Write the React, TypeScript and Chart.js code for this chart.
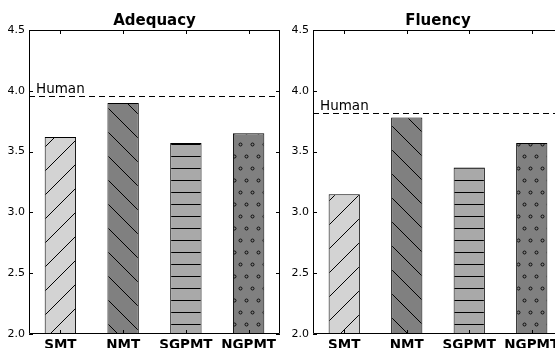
import React, { useEffect, useRef } from "react";
import { Chart, registerables } from "chart.js";
Chart.register(...registerables);

const categories = ["SMT", "NMT", "SGPMT", "NGPMT"];
const adequacyValues = [3.62, 3.9, 3.57, 3.65];
const fluencyValues = [3.15, 3.78, 3.37, 3.57];
const adequacyHuman = 3.96;
const fluencyHuman = 3.82;
const yTicks = [2.0, 2.5, 3.0, 3.5, 4.0, 4.5];
const yMin = 2.0;
const yMax = 4.5;
const humanLabel = "Human";
const barColors = ["#d3d3d3", "#808080", "#a9a9a9", "#808080"];
const hatches = ["/", "\\", "-", "o"];

const FONT = "'DejaVu Sans', 'Liberation Sans', sans-serif";

function makePattern(kind: string, fill: string): CanvasPattern | string {
  const c = document.createElement("canvas");
  let w = 24, h = 24;
  if (kind === "-") { w = 12; h = 12; }
  if (kind === "o") { w = 12; h = 24; }
  c.width = w; c.height = h;
  const ctx = c.getContext("2d");
  if (!ctx) return fill;
  ctx.fillStyle = fill;
  ctx.fillRect(0, 0, w, h);
  ctx.strokeStyle = "#000";
  ctx.fillStyle = "#000";
  ctx.lineWidth = 1;
  if (kind === "/") {
    ctx.beginPath();
    ctx.moveTo(-2, 26); ctx.lineTo(26, -2);
    ctx.moveTo(-2, 2); ctx.lineTo(2, -2);
    ctx.moveTo(22, 26); ctx.lineTo(26, 22);
    ctx.stroke();
  } else if (kind === "\\") {
    ctx.beginPath();
    ctx.moveTo(-2, -2); ctx.lineTo(26, 26);
    ctx.moveTo(22, -2); ctx.lineTo(26, 2);
    ctx.moveTo(-2, 22); ctx.lineTo(2, 26);
    ctx.stroke();
  } else if (kind === "-") {
    ctx.fillRect(0, 0, w, 1);
  } else if (kind === "o") {
    const pts = [[0, 0], [12, 0], [0, 24], [12, 24], [6, 12]];
    ctx.lineWidth = 0.9;
    for (const [px, py] of pts) {
      ctx.beginPath();
      ctx.arc(px + 0.5, py + 0.5, 1.5, 0, Math.PI * 2);
      ctx.stroke();
    }
  }
  const pat = ctx.createPattern(c, "repeat");
  return pat || fill;
}

type PanelProps = {
  title: string;
  values: number[];
  human: number;
  left: number;
  width: number;
  yWidth: number;
  padRight: number;
};

function Panel({ title, values, human, left, width, yWidth, padRight }: PanelProps) {
  const ref = useRef<HTMLCanvasElement | null>(null);
  useEffect(() => {
    if (!ref.current) return;
    const patterns = hatches.map((h, i) => makePattern(h, barColors[i]));
    const deco = {
      id: "deco",
      afterDatasetsDraw(chart: any) {
        const { ctx, chartArea } = chart;
        const y = chart.scales.y;
        const py = Math.round(y.getPixelForValue(human)) + 0.5;
        ctx.save();
        ctx.strokeStyle = "#000";
        ctx.lineWidth = 1;
        ctx.setLineDash([6, 4]);
        ctx.beginPath();
        ctx.moveTo(chartArea.left, py);
        ctx.lineTo(chartArea.right, py);
        ctx.stroke();
        ctx.setLineDash([]);
        ctx.fillStyle = "#000";
        ctx.font = `13.5px ${FONT}`;
        ctx.textAlign = "left";
        ctx.textBaseline = "alphabetic";
        ctx.fillText(humanLabel, chartArea.left + 7, py - 3.5);
        ctx.restore();
      },
      afterDraw(chart: any) {
        const { ctx, chartArea } = chart;
        const { left: l, right: r, top: t, bottom: b } = chartArea;
        const x = chart.scales.x;
        const y = chart.scales.y;
        ctx.save();
        ctx.strokeStyle = "#000";
        ctx.lineWidth = 1;
        ctx.beginPath();
        ctx.rect(l + 0.5, t + 0.5, r - l - 1, b - t - 1);
        ctx.stroke();
        ctx.beginPath();
        for (const v of yTicks) {
          const py = Math.round(y.getPixelForValue(v)) + 0.5;
          ctx.moveTo(l, py); ctx.lineTo(l + 4, py);
          ctx.moveTo(r, py); ctx.lineTo(r - 4, py);
        }
        categories.forEach((_, i) => {
          const px = Math.round(x.getPixelForValue(i)) + 0.5;
          ctx.moveTo(px, t); ctx.lineTo(px, t + 4);
          ctx.moveTo(px, b); ctx.lineTo(px, b - 4);
        });
        ctx.stroke();
        ctx.fillStyle = "#000";
        ctx.font = `bold 15px ${FONT}`;
        ctx.textAlign = "center";
        ctx.textBaseline = "alphabetic";
        ctx.fillText(title, (l + r) / 2, 25);
        ctx.restore();
      },
    };
    const chart = new Chart(ref.current, {
      type: "bar",
      data: {
        labels: categories,
        datasets: [
          {
            data: values,
            backgroundColor: patterns as any,
            borderColor: "#000",
            borderWidth: 1,
            borderSkipped: "start",
            barPercentage: 0.5,
            categoryPercentage: 1,
          },
        ],
      },
      options: {
        animation: false,
        responsive: false,
        devicePixelRatio: 1,
        layout: { padding: { left: 0, top: 30, right: padRight, bottom: 0 } },
        plugins: {
          legend: { display: false },
          tooltip: { enabled: false },
          title: { display: false },
        },
        scales: {
          x: {
            type: "category",
            offset: true,
            grid: { display: false, drawTicks: false },
            border: { display: false },
            ticks: {
              color: "#000",
              font: { family: FONT, size: 13.5, weight: "bold" },
              padding: 3,
              maxRotation: 0,
              autoSkip: false,
            },
            afterFit: (s: any) => { s.height = 14; },
          },
          y: {
            min: yMin,
            max: yMax,
            grid: { display: false, drawTicks: false },
            border: { display: false },
            ticks: {
              color: "#000",
              font: { family: FONT, size: 11 },
              padding: 4,
              callback: (v: any) => Number(v).toFixed(1),
            },
            afterBuildTicks: (s: any) => { s.ticks = yTicks.map((v) => ({ value: v })); },
            afterFit: (s: any) => { s.width = yWidth; },
          },
        },
      } as any,
      plugins: [deco],
    });
    return () => chart.destroy();
  }, [title, values, human, yWidth, padRight]);
  return (
    <canvas
      ref={ref}
      width={width}
      height={348}
      style={{ position: "absolute", left, top: 0, width, height: 348 }}
    />
  );
}

export default function App() {
  return (
    <div
      style={{
        position: "fixed",
        left: 0,
        top: 0,
        width: 555,
        height: 348,
        overflow: "hidden",
        background: "#fff",
      }}
    >
      <Panel title="Adequacy" values={adequacyValues} human={adequacyHuman} left={0} width={290} yWidth={29} padRight={10} />
      <Panel title="Fluency" values={fluencyValues} human={fluencyHuman} left={290} width={290} yWidth={23} padRight={17} />
    </div>
  );
}
